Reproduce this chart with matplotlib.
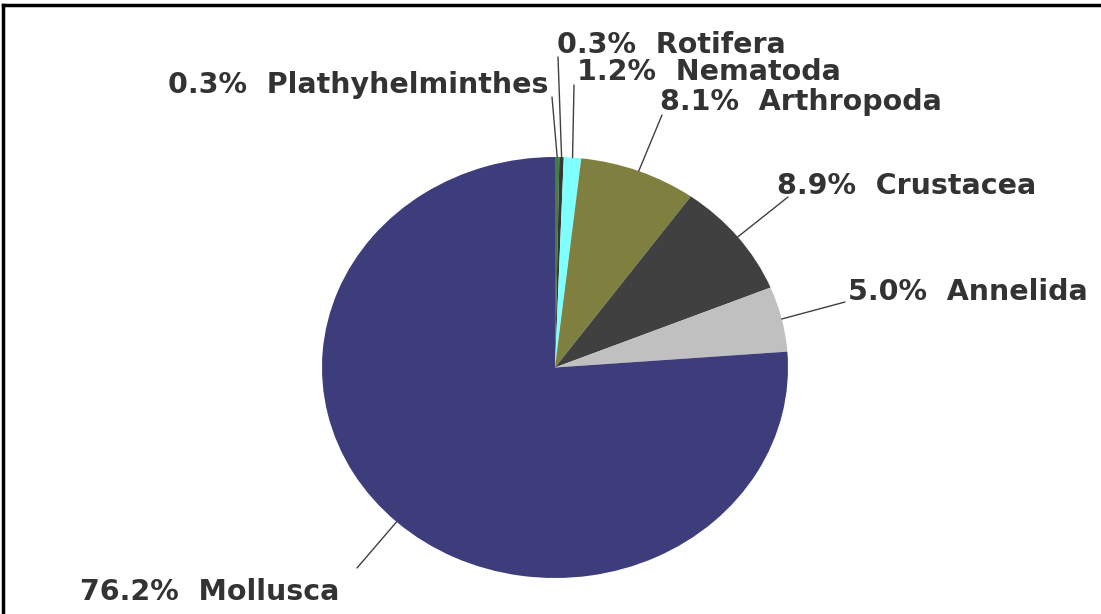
import matplotlib.pyplot as plt
from matplotlib.lines import Line2D
import numpy as np

# data
phyla = ['Plathyhelminthes', 'Rotifera', 'Nematoda', 'Arthropoda',
         'Crustacea', 'Annelida', 'Mollusca']
percent = [0.3, 0.3, 1.2, 8.1, 8.9, 5.0, 76.2]
colors = ['#3f7f3f', '#363636', '#80ffff', '#7f7f3f',
          '#404040', '#c0c0c0', '#3d3d7c']

# label positions (figure pixels, top-left origin) and alignment
label_xy = [(548, 85), (557, 45), (577, 72), (660, 102),
            (777, 186), (848, 292), (80, 592)]
label_ha = ['right', 'left', 'left', 'left', 'left', 'left', 'left']
# leader line ends in figure pixels
line_end = [(552, 97), (558, 57), (574, 85), (662, 115),
            (788, 197), (845, 302), (357, 568)]

W, H = 1101, 614
fig = plt.figure(figsize=(W / 100, H / 100), dpi=100)

# pie is drawn stretched, like the original (466 x 421 px)
left, top, right, bottom = 322, 157, 788, 578
ax = fig.add_axes([left / W, 1 - bottom / H, (right - left) / W, (bottom - top) / H])
wedges, _ = ax.pie(percent, colors=colors, startangle=90, counterclock=False,
                   wedgeprops=dict(linewidth=0))
ax.set_aspect('auto')
ax.set_xlim(-1, 1)
ax.set_ylim(-1, 1)

txt_color = '#333333'
for w, name, p, (tx, ty), ha, (lx, ly) in zip(wedges, phyla, percent,
                                               label_xy, label_ha, line_end):
    ang = np.deg2rad((w.theta1 + w.theta2) / 2)
    x0, y0 = np.cos(ang), np.sin(ang)
    ax.annotate('', xy=(x0, y0), xytext=(lx, H - ly), textcoords='figure pixels',
                arrowprops=dict(arrowstyle='-', color='#404040', lw=1,
                                shrinkA=0, shrinkB=0))
    fig.text(tx / W, 1 - ty / H, f'{p:.1f}%  {name}', ha=ha, va='center',
             fontsize=20.5, fontweight='bold', color=txt_color,
             family='DejaVu Sans')

# frame on left and top, as in the screenshot
fig.add_artist(Line2D([3 / W, 1], [1 - 5 / H, 1 - 5 / H], color='black',
                      lw=2.5, transform=fig.transFigure))
fig.add_artist(Line2D([3 / W, 3 / W], [0, 1 - 5 / H], color='black',
                      lw=2.5, transform=fig.transFigure))

fig.savefig('out.png', dpi=100)
